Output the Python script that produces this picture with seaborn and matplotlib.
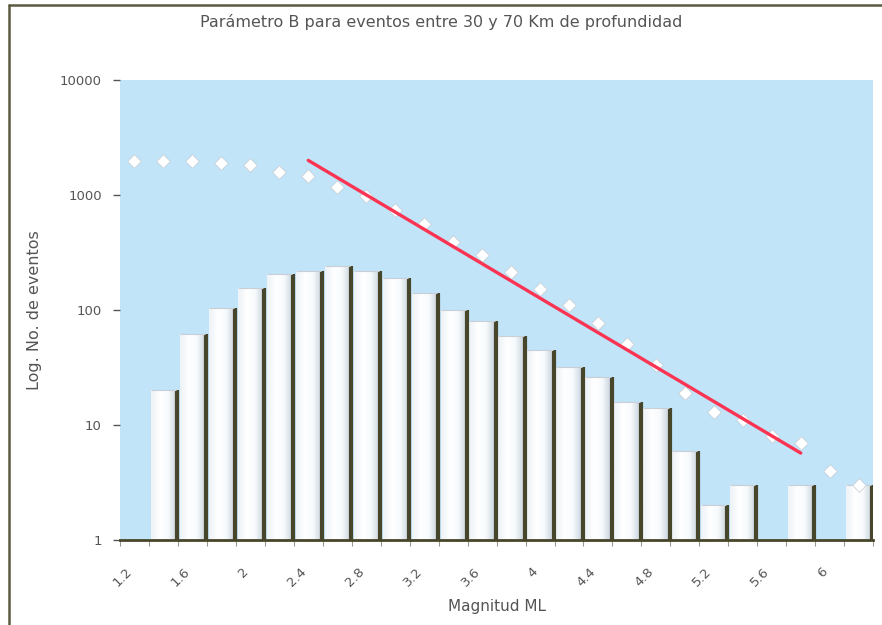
import numpy as np
import matplotlib
matplotlib.use("Agg")
import matplotlib.pyplot as plt
from matplotlib.lines import Line2D
from matplotlib.colors import LinearSegmentedColormap
import seaborn as sns

# Data
mags = [1.2, 1.4, 1.6, 1.8, 2.0, 2.2, 2.4, 2.6, 2.8, 3.0, 3.2, 3.4, 3.6,
        3.8, 4.0, 4.2, 4.4, 4.6, 4.8, 5.0, 5.2, 5.4, 5.6, 5.8, 6.0, 6.2]
counts = [0, 20, 62, 104, 155, 205, 220, 240, 220, 190, 140, 100, 80,
          59, 45, 32, 26, 16, 14, 6, 2, 3, 0, 3, 0, 3]
cumulative = [1960, 1960, 1960, 1880, 1810, 1600, 1450, 1170, 980, 746, 560, 390, 300,
              215, 152, 110, 77, 51, 33, 19, 13, 11, 8, 7, 4, 3]
fit_mag = [2.4, 5.8]
fit_n = [2000, 5.7]
xtick_labels = ['1.2', '1.6', '2', '2.4', '2.8', '3.2', '3.6', '4',
                '4.4', '4.8', '5.2', '5.6', '6']
ytick_values = [1, 10, 100, 1000, 10000]

sns.set_theme(style="white")
plt.rcParams['font.family'] = ['DejaVu Sans']

fig = plt.figure(figsize=(8.82, 6.25), dpi=100)
ax = fig.add_axes([0.136, 0.136, 0.854, 0.736])
ax.set_facecolor('#c1e4f8')

# bars
sns.barplot(x=mags, y=counts, native_scale=True, color='white', width=0.87,
            saturation=1, edgecolor='none', ax=ax)
ax.set_yscale('log')

grad = LinearSegmentedColormap.from_list(
    'bar', ['#eef3f7', '#ffffff', '#f7fafc', '#c9d5df'])
for p in list(ax.patches):
    h = p.get_height()
    if h <= 0:
        continue
    x0 = p.get_x()
    x1 = x0 + p.get_width()
    im = ax.imshow(np.linspace(0, 1, 64).reshape(1, -1), cmap=grad,
                   extent=(x0, x1, 1, h), aspect='auto', zorder=2.1,
                   interpolation='bilinear')
    im.set_clip_path(p)
    ax.vlines(x1 + 0.007, 1, h, color='#47462a', lw=3, zorder=2.2)
    ax.hlines(h, x0, x1, color='#c8d0d6', lw=0.8, zorder=2.2)

# cumulative points
sns.scatterplot(x=mags, y=cumulative, marker='D', s=48, color='white',
                edgecolor='#c4ccd4', linewidth=0.5, zorder=4, ax=ax)

# fitted line
sns.lineplot(x=fit_mag, y=fit_n, color='#fa3452', lw=2.4, zorder=5, ax=ax)

ax.set_xlim(mags[0] - 0.1, mags[-1] + 0.1)
ax.set_ylim(1, 10000)

# axes styling
for s in ['top', 'right', 'left']:
    ax.spines[s].set_visible(False)
ax.spines['bottom'].set_color('#47462a')
ax.spines['bottom'].set_linewidth(2)
ax.spines['bottom'].set_zorder(6)

ax.set_yticks(ytick_values)
ax.set_yticklabels([str(v) for v in ytick_values])
ax.yaxis.set_minor_locator(matplotlib.ticker.NullLocator())
ax.tick_params(axis='y', which='major', left=True, length=5, width=1,
               color='#555555', labelsize=9.5, labelcolor='#555555', pad=8)

# labels sit a little left of the category centre, as in the original
ax.set_xticks([float(t) - 0.06 for t in xtick_labels])
ax.set_xticklabels(xtick_labels, rotation=45, ha='right', rotation_mode='anchor')
ax.set_xticks([m - 0.1 for m in mags] + [mags[-1] + 0.1], minor=True)
ax.tick_params(axis='x', which='major', bottom=True, length=0,
               labelsize=9.5, labelcolor='#555555', pad=18)
ax.tick_params(axis='x', which='minor', bottom=True, length=4, width=0.8,
               color='#9a9a8a')

ax.set_xlabel('Magnitud ML', fontsize=11, color='#555555', labelpad=7)
ax.set_ylabel('Log. No. de eventos', fontsize=11.5, color='#555555', labelpad=13)
ax.grid(False)

fig.text(0.5, 0.965, 'Parámetro B para eventos entre 30 y 70 Km de profundidad',
         ha='center', va='center', fontsize=11.5, color='#555555')

# scanned page border
fig.add_artist(Line2D([0.01, 0.01], [0.0, 0.992], transform=fig.transFigure,
                      color='#5a5a40', lw=1.8))
fig.add_artist(Line2D([0.01, 1.0], [0.992, 0.992], transform=fig.transFigure,
                      color='#5a5a40', lw=1.8))

fig.savefig('out.png', dpi=100)
